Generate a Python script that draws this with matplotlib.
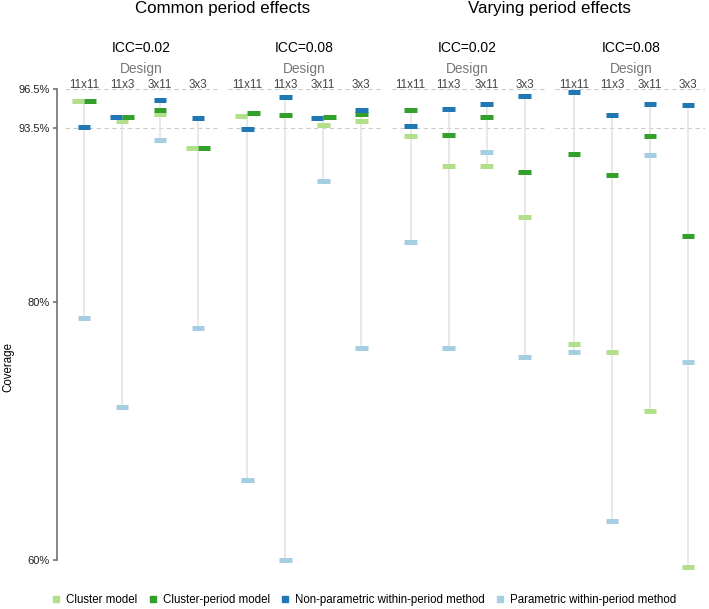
import numpy as np
import matplotlib
matplotlib.use("Agg")
import matplotlib.pyplot as plt
from matplotlib.lines import Line2D
from matplotlib.transforms import blended_transform_factory

plt.rcParams['font.family'] = ['Liberation Sans', 'DejaVu Sans']

effects = ["Common period effects", "Varying period effects"]
iccs = ["ICC=0.02", "ICC=0.08"]
designs = ["11x11", "11x3", "3x11", "3x3"]
methods = ["Cluster model", "Cluster-period model",
           "Non-parametric within-period method", "Parametric within-period method"]
colors = ["#b2df8a", "#33a02c", "#1f78b4", "#a6cee3"]

# coverage (%), one row per panel: common 0.02, common 0.08, varying 0.02, varying 0.08
cluster_model = [
    [95.55, 94.00, 94.54, 91.95],
    [94.43, np.nan, 93.74, 94.04],
    [92.86, 90.56, 90.56, 86.56],
    [76.76, 76.14, 71.55, 59.43],
]
cluster_period = [
    [95.55, 94.35, 94.85, 91.95],
    [94.64, 94.46, 94.36, 94.54],
    [94.85, 92.94, 94.36, 90.04],
    [91.46, 89.83, 92.86, 85.13],
]
nonparam = [
    [93.55, 94.35, 95.65, 94.25],
    [93.42, 95.85, 94.25, 94.85],
    [93.66, 94.95, 95.34, 95.96],
    [96.24, 94.46, 95.34, 95.24],
]
param = [
    [78.75, 71.83, 92.55, 77.96],
    [66.22, 60.02, 89.35, 76.45],
    [84.64, 76.45, 91.64, 75.76],
    [76.14, 63.05, 91.36, 75.34],
]

yticks = [60, 80, 93.5, 96.5]
ytick_labels = ["60%", "80%", "93.5%", "96.5%"]

data = np.array([cluster_model, cluster_period, nonparam, param])  # method, panel, design

panel_step = 4.3
half_w = 0.165
dodge = 0.16

fig = plt.figure(figsize=(7.09, 6.09), dpi=100)
ax = fig.add_axes([0.0804, 0.0591, 0.914, 0.799])
ax.set_xlim(-0.71, 16.35)
ax.set_ylim(59.0, 96.7)

for p in range(4):
    x0 = p * panel_step
    # reference lines
    ax.hlines([96.5, 93.5], x0 - 0.5, x0 + 3.5, color="#cccccc", lw=0.8,
              linestyles=(0, (4, 3)), zorder=1)
    for d in range(4):
        x = x0 + d
        vals = data[:, p, d]
        ok = ~np.isnan(vals)
        ax.vlines(x, vals[ok].min(), vals[ok].max(), color="#e2e2e2", lw=1.1, zorder=1)

        # side-by-side when two values (nearly) coincide
        offs = np.zeros(4)
        for i in range(4):
            for j in range(i + 1, 4):
                if ok[i] and ok[j] and abs(vals[i] - vals[j]) < 0.25:
                    a, b = sorted([i, j], key=lambda k: (vals[k], k == 1))
                    offs[a] = -dodge
                    offs[b] = dodge
        for m in range(4):
            if ok[m]:
                ax.hlines(vals[m], x + offs[m] - half_w, x + offs[m] + half_w,
                          color=colors[m], lw=3.6, capstyle="butt", zorder=3 + m)

for s in ["top", "right", "bottom"]:
    ax.spines[s].set_visible(False)
ax.spines["left"].set_bounds(60, 96.5)
ax.spines["left"].set_color("#666666")
ax.spines["left"].set_linewidth(1.1)
ax.set_xticks([])
ax.set_yticks(yticks)
ax.set_yticklabels(ytick_labels, fontsize=8, color="#222222")
ax.tick_params(axis="y", length=3, width=1.1, color="#666666", pad=2)
ax.set_ylabel("Coverage", fontsize=8.3)
ax.yaxis.set_label_coords(-0.066, 0.423)

# headers
tr = blended_transform_factory(ax.transData, fig.transFigure)
H = 609.0
for e in range(2):
    xc = e * 2 * panel_step + (panel_step + 3) / 2
    ax.text(xc, 1 - 13.5 / H, effects[e], transform=tr, ha="center", va="baseline",
            fontsize=12.2)
    for c in range(2):
        p = e * 2 + c
        xp = p * panel_step + 1.5
        ax.text(xp, 1 - 52 / H, iccs[c], transform=tr, ha="center", va="baseline",
                fontsize=10)
        ax.text(xp, 1 - 73 / H, "Design", transform=tr, ha="center", va="baseline",
                fontsize=9.9, color="#777777")
        for d in range(4):
            ax.text(p * panel_step + d, 1 - 88.5 / H, designs[d], transform=tr,
                    ha="center", va="baseline", fontsize=8.4, color="#444444")

handles = [Line2D([], [], ls="", marker="s", markersize=3.8, color=c) for c in colors]
fig.legend(handles, methods, loc="center", bbox_to_anchor=(0.514, 1 - 600 / H),
           ncol=4, frameon=False, fontsize=8.3, handlelength=0.6, handletextpad=0.57,
           columnspacing=1.0, borderpad=0)

fig.savefig("out.png", dpi=100)
